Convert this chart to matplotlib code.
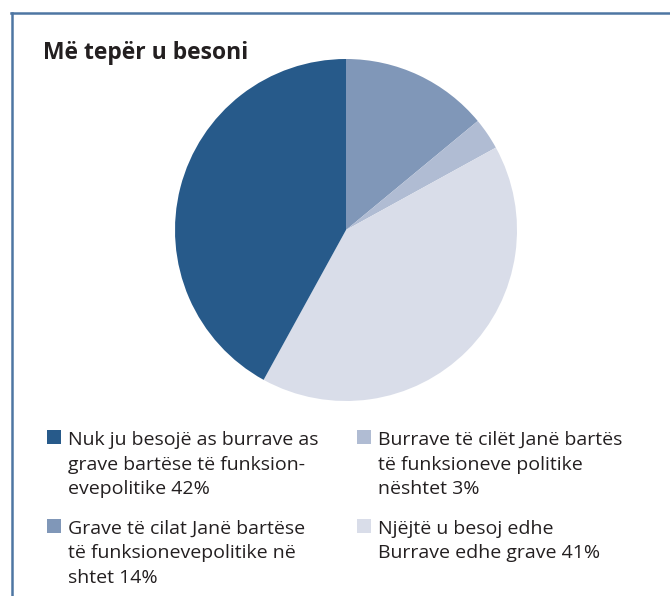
import matplotlib
matplotlib.use("Agg")
import matplotlib.pyplot as plt
from matplotlib.patches import Rectangle
from matplotlib.lines import Line2D

title = "Më tepër u besoni"
labels = [
    "Grave të cilat Janë bartëse\ntë funksionevepolitike në\nshtet 14%",
    "Burrave të cilët Janë bartës\ntë funksioneve politike\nnështet 3%",
    "Njëjtë u besoj edhe\nBurrave edhe grave 41%",
    "Nuk ju besojë as burrave as\ngrave bartëse të funksion-\nevepolitike 42%",
]
values = [14, 3, 41, 42]
colors = ["#8097B8", "#B0BCD3", "#D9DDE9", "#275A8A"]

W, H = 670, 596
fig = plt.figure(figsize=(W / 100, H / 100), dpi=100)
fig.patch.set_facecolor("white")

# frame (top and left lines)
frame_c = "#4E76A3"
fig.add_artist(Line2D([11 / W, 1], [1 - 12.5 / H, 1 - 12.5 / H], color=frame_c, lw=1.8, transform=fig.transFigure))
fig.add_artist(Line2D([11.5 / W, 11.5 / W], [0, 1 - 12.5 / H], color=frame_c, lw=1.8, transform=fig.transFigure))

fig.text(43 / W, 1 - 59 / H, title, fontsize=16.5, fontweight="bold", family="Open Sans",
         color="#231F20", va="baseline", ha="left")

cx, cy, r = 346, 230, 171
ax = fig.add_axes([(cx - r) / W, 1 - (cy + r) / H, 2 * r / W, 2 * r / H])
ax.pie(values, colors=colors, startangle=90, counterclock=False,
       wedgeprops=dict(linewidth=0))
ax.set_aspect("equal")
ax.set_xlim(-1, 1)
ax.set_ylim(-1, 1)

# legend
order = [3, 1, 0, 2]
pos = [(47, 445), (357, 445), (47, 534), (357, 534)]
for idx, (x, y) in zip(order, pos):
    fig.add_artist(Rectangle((x / W, 1 - (y - 1) / H), 14 / W, 14 / H,
                             transform=fig.transFigure, facecolor=colors[idx], edgecolor="none"))
    for i, line in enumerate(labels[idx].split("\n")):
        fig.text((x + 21.5) / W, 1 - (y + i * 24.5) / H, line, fontsize=14, family="Open Sans",
                 color="#231F20", va="baseline", ha="left")

fig.savefig("out.png", dpi=100)
